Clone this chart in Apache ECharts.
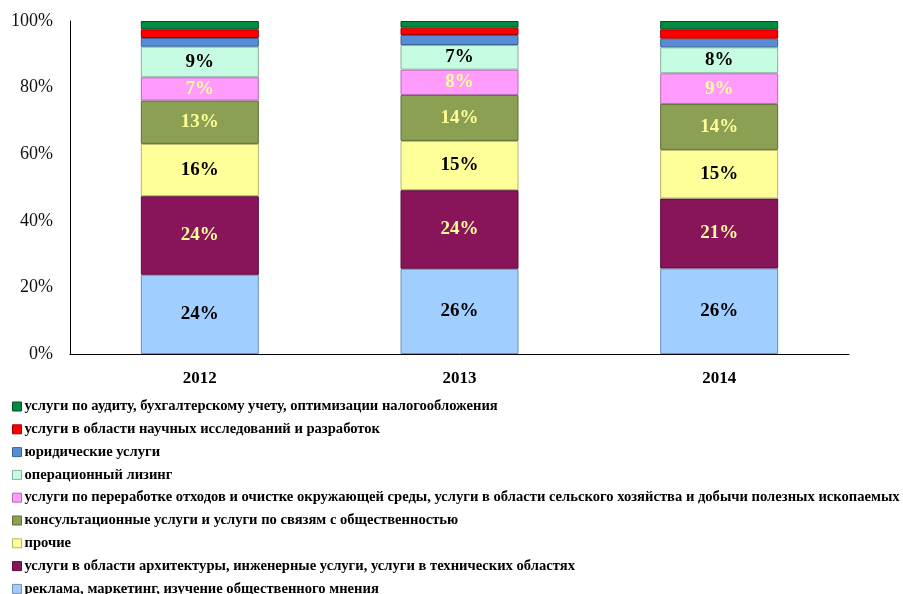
<!DOCTYPE html>
<html>
<head>
<meta charset="utf-8">
<script src="https://cdn.jsdelivr.net/npm/echarts@6/dist/echarts.min.js"></script>
<style>
  html, body { margin: 0; padding: 0; background: #fff; }
  #chart { width: 903px; height: 594px; }
</style>
</head>
<body>
<div id="chart"></div>
<script>
// years on the x axis
var years = ['2012', '2013', '2014'];
var yTicks = ['0%', '20%', '40%', '60%', '80%', '100%'];

// shares, %, bottom -> top of each bar
var reklama = [23.8, 25.6, 25.7];
var arhitektura = [23.6, 23.6, 21.0];
var prochie = [15.7, 14.8, 14.6];
var konsult = [13.0, 13.8, 13.8];
var othody = [7.0, 7.6, 9.2];
var lizing = [9.2, 7.4, 7.8];
var yurid = [2.6, 3.0, 2.6];
var nauka = [2.6, 2.2, 2.8];
var audit = [2.5, 2.0, 2.5];

var names = [
  'реклама, маркетинг, изучение общественного мнения',
  'услуги в области архитектуры, инженерные услуги, услуги в технических областях',
  'прочие',
  'консультационные услуги и услуги по связям с общественностью',
  'услуги по переработке отходов и очистке окружающей среды, услуги в области сельского хозяйства и добычи полезных ископаемых',
  'операционный лизинг',
  'юридические услуги',
  'услуги в области научных исследований и разработок',
  'услуги по аудиту, бухгалтерскому учету, оптимизации налогообложения'
];
var values = [reklama, arhitektura, prochie, konsult, othody, lizing, yurid, nauka, audit];
var colors = ['#A0CEFF', '#88145A', '#FFFF99', '#8BA052', '#FF9BFF', '#C6FDE2', '#558ED5', '#FF0000', '#008C3F'];
var borders = ['#6F8FB5', '#5A0C3A', '#B5B56A', '#5E6E36', '#B36CB3', '#8AB09E', '#3A6496', '#A00000', '#004F22'];
var labelColors = ['#000', '#FFFF99', '#000', '#FFFF99', '#FFFF99', '#000', null, null, null];

var font = '"Liberation Serif", "Times New Roman", serif';

var series = values.map(function (data, i) {
  return {
    name: names[i],
    type: 'bar',
    stack: 'total',
    barWidth: 118,
    data: data,
    itemStyle: { color: colors[i], borderColor: borders[i], borderWidth: 1 },
    label: {
      show: labelColors[i] !== null,
      position: 'inside',
      formatter: function (p) { return Math.round(p.value) + '%'; },
      color: labelColors[i] || '#000',
      fontFamily: font,
      fontWeight: 'bold',
      fontSize: 19
    },
    emphasis: { disabled: true }
  };
});

var chart = echarts.init(document.getElementById('chart'));
chart.setOption({
  animation: false,
  grid: { left: 70, right: 54, top: 21, bottom: 240 },
  xAxis: {
    type: 'category',
    data: years,
    axisLine: { lineStyle: { color: '#000', width: 1 } },
    axisTick: { show: false },
    axisLabel: { margin: 16, color: '#000', fontFamily: font, fontWeight: 'bold', fontSize: 17 }
  },
  yAxis: {
    type: 'value',
    min: 0,
    max: 100,
    interval: 20,
    axisLine: { show: true, lineStyle: { color: '#000', width: 1 } },
    axisTick: { show: false },
    splitLine: { show: false },
    axisLabel: {
      margin: 17,
      color: '#111',
      fontFamily: font,
      fontSize: 18,
      formatter: function (v) { return yTicks[v / 20]; }
    }
  },
  legend: {
    orient: 'vertical',
    left: 8,
    top: 399,
    height: 200,
    padding: [0, 0, 0, 4],
    itemWidth: 9,
    itemHeight: 9,
    itemGap: 7.8,
    icon: 'rect',
    data: names.slice().reverse(),
    textStyle: { color: '#000', fontFamily: font, fontWeight: 'bold', fontSize: 14.6, lineHeight: 14.6, padding: [0, 0, 0, -2] },
    itemStyle: { borderWidth: 1 },
    selectedMode: false
  },
  series: series
});
</script>
</body>
</html>
